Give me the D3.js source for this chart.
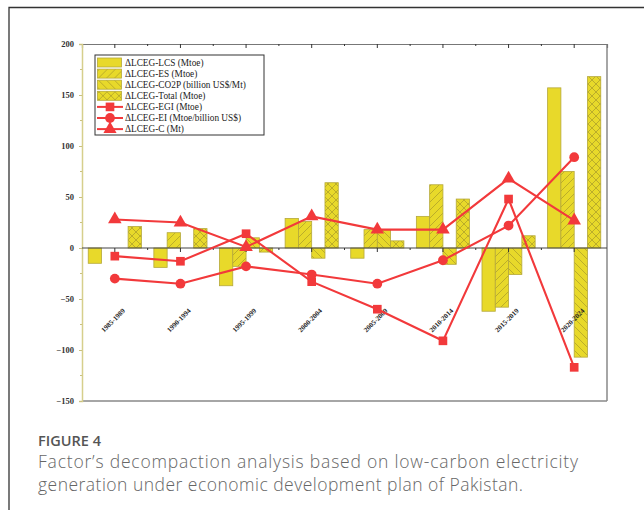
<!DOCTYPE html>
<html>
  <head>
    <meta charset="utf-8">
    <title>Factor decomposition - Pakistan</title>
    <style>
      body{ margin:0; background:#fff; }
      svg{ display:block; }
    </style>
  </head>
  <body>
    <svg id="chart" width="644" height="510"></svg>
  </body>
  <script src="https://cdn.jsdelivr.net/npm/d3@7/dist/d3.min.js"></script>
  <script>
    var periods = ["1985-1989","1990-1994","1995-1999","2000-2004","2005-2009","2010-2014","2015-2019","2020-2024"]
    var barNames = ["ΔLCEG-LCS (Mtoe)","ΔLCEG-ES (Mtoe)","ΔLCEG-CO2P (billion US$/Mt)","ΔLCEG-Total (Mtoe)"]
    var lcs   = [-15, -19, -37, 29, -10, 31, -62, 157]
    var es    = [0, 15, -18, 26, 18, 62, -58, 75]
    var co2p  = [0, 0, 10, -10, 18, -16, -26, -107]
    var total = [21, 19, -4, 64, 7, 48, 12, 168]
    var lineNames = ["ΔLCEG-EGI (Mtoe)","ΔLCEG-EI (Mtoe/billion US$)","ΔLCEG-C (Mt)"]
    var egi = [-8, -13, 14, -33, -60, -91, 48, -117]
    var ei  = [-30, -35, -18, -26, -35, -12, 22, 89]
    var c   = [28, 25, 1, 31, 18, 18, 68, 27]
    var yTicks = [-150, -100, -50, 0, 50, 100, 150, 200]

    var bars = [lcs, es, co2p, total]
    var lines = [egi, ei, c]
    var fills = ["none", "url(#hatchF)", "url(#hatchB)", "url(#hatchX)"]
    var symbols = [d3.symbolSquare, d3.symbolCircle, d3.symbolTriangle]
    var red = "#f2393b"
    var serif = "'Liberation Serif', 'DejaVu Serif', serif"

    var svg = d3.select("#chart")
    var m = {left:82, right:607, top:44, bottom:401}

    // frame round the figure
    svg.append("path").attr("d","M9,510 V7.5 H644").attr("fill","none").attr("stroke","#333").attr("stroke-width",1.3)

    var defs = svg.append("defs")
    function hatch(id, paths){
      var p = defs.append("pattern").attr("id",id).attr("patternUnits","userSpaceOnUse")
        .attr("width",8).attr("height",8)
      p.append("rect").attr("width",8).attr("height",8).attr("fill","#e8d92a")
      paths.forEach(function(d){
        p.append("path").attr("d",d).attr("stroke","#a89a2a").attr("stroke-width",0.7).attr("fill","none")
      })
    }
    hatch("hatchF", ["M-2,2 L2,-2 M0,8 L8,0 M6,10 L10,6"])
    hatch("hatchB", ["M-2,6 L2,10 M0,0 L8,8 M6,-2 L10,2"])
    hatch("hatchX", ["M-2,2 L2,-2 M0,8 L8,0 M6,10 L10,6","M-2,6 L2,10 M0,0 L8,8 M6,-2 L10,2"])

    var x = d3.scaleBand().domain(periods).range([m.left, m.right])
    var xs = d3.scaleBand().domain(d3.range(4)).range([0, x.bandwidth()*0.81])
    var y = d3.scaleLinear().domain([-150, 200]).range([m.bottom, m.top])

    // bars
    bars.forEach(function(vals, k){
      svg.append("g").selectAll("rect").data(vals).enter().append("rect")
        .attr("x", function(d,i){ return x(periods[i]) + x.bandwidth()*0.095 + xs(k) })
        .attr("width", xs.bandwidth())
        .attr("y", function(d){ return y(Math.max(0,d)) })
        .attr("height", function(d){ return Math.abs(y(d)-y(0)) })
        .attr("fill", k==0 ? "#e8d92a" : fills[k])
        .attr("stroke", "#b5a83a").attr("stroke-width", 0.8)
    })

    // axes frame
    svg.append("line").attr("x1",m.left).attr("x2",m.right).attr("y1",m.bottom).attr("y2",m.bottom)
      .attr("stroke","#888").attr("stroke-width",1.5)
    svg.append("line").attr("x1",m.right).attr("x2",m.right).attr("y1",m.top).attr("y2",m.bottom)
      .attr("stroke","#888").attr("stroke-width",1.5)

    var topAxis = svg.append("g").attr("transform","translate(0,"+m.top+")")
      .call(d3.axisBottom(x).tickSize(4).tickFormat(""))
    topAxis.select(".domain").attr("stroke","#777").attr("stroke-width",1.2)
    topAxis.selectAll(".tick line").attr("stroke","#333")
    topAxis.selectAll(".minor").data(periods.slice(1)).enter().append("line")
      .attr("x1",function(d){return x(d)}).attr("x2",function(d){return x(d)}).attr("y1",0).attr("y2",2).attr("stroke","#333")

    var yAxis = svg.append("g").attr("transform","translate("+m.left+",0)")
      .call(d3.axisLeft(y).tickValues(yTicks).tickSize(3).tickPadding(5).tickFormat(function(d){ return d<0 ? "\u2212"+(-d) : d }))
    yAxis.select(".domain").attr("stroke","#d6cf8c").attr("stroke-width",1.5)
    yAxis.selectAll(".tick line").attr("stroke","#c9c080")
    yAxis.selectAll("text").attr("font-family",serif).attr("font-size",8.5).attr("font-weight","bold").attr("fill","#333")
    yAxis.selectAll(".ym").data(d3.range(-125, 200, 50)).enter().append("line")
      .attr("x1",0).attr("x2",-2).attr("y1",function(d){return y(d)}).attr("y2",function(d){return y(d)}).attr("stroke","#c9c080")

    // zero axis with category labels
    var zero = svg.append("g").attr("transform","translate(0,"+y(0)+")")
      .call(d3.axisBottom(x).tickSize(4).tickFormat(""))
    zero.select(".domain").attr("stroke","#444").attr("stroke-width",1.2).attr("d","M"+m.left+",0H"+m.right)
    zero.selectAll(".tick line").attr("stroke","#333")
    zero.selectAll(".minor").data(periods.slice(1)).enter().append("line")
      .attr("x1",function(d){return x(d)}).attr("x2",function(d){return x(d)}).attr("y1",0).attr("y2",2).attr("stroke","#333")

    svg.append("g").selectAll("text").data(periods).enter().append("text")
      .attr("transform", function(d){ return "translate("+(x(d)+x.bandwidth()/2)+",322) rotate(-45)" })
      .attr("text-anchor","middle").attr("font-family",serif).attr("font-size",7).attr("font-weight","bold")
      .attr("fill","#222").text(function(d){return d})

    // lines
    var line = d3.line().x(function(d,i){ return x(periods[i]) + x.bandwidth()/2 }).y(function(d){ return y(d) })
    lines.forEach(function(vals, k){
      svg.append("path").datum(vals).attr("d", line).attr("fill","none").attr("stroke",red).attr("stroke-width",2.1)
      svg.append("g").selectAll("path").data(vals).enter().append("path")
        .attr("transform", function(d,i){ return "translate("+(x(periods[i]) + x.bandwidth()/2)+","+y(d)+")" })
        .attr("d", d3.symbol().type(symbols[k]).size(k==2 ? 80 : 75))
        .attr("fill", red)
    })

    // legend
    var lg = svg.append("g").attr("transform","translate(95,55)")
    lg.append("rect").attr("width",169).attr("height",80).attr("fill","#fff").attr("stroke","#333").attr("stroke-width",1)
    var names = barNames.concat(lineNames)
    names.forEach(function(n, i){
      var yy = 7.5 + i*11.1
      var row = lg.append("g").attr("transform","translate(0,"+yy+")")
      if(i < 4){
        row.append("rect").attr("x",2.5).attr("y",-4.5).attr("width",24).attr("height",9)
          .attr("fill", i==0 ? "#e8d92a" : fills[i]).attr("stroke","#b5a83a").attr("stroke-width",0.8)
      } else {
        row.append("line").attr("x1",2).attr("x2",28).attr("stroke",red).attr("stroke-width",2)
        row.append("path").attr("transform","translate(15,0)").attr("d", d3.symbol().type(symbols[i-4]).size(75)).attr("fill",red)
      }
      row.append("text").attr("x",30).attr("y",3.2).attr("font-family",serif).attr("font-size",9.3)
        .attr("fill","#222").text(n)
    })

    // caption
    svg.append("text").attr("x",38).attr("y",446).attr("font-family","'Open Sans', sans-serif").attr("font-size",14.5)
      .attr("font-weight",600).attr("fill","#555").attr("textLength",63).attr("lengthAdjust","spacing").text("FIGURE 4")
    var cap = ["Factor\u2019s decompaction analysis based on low-carbon electricity",
               "generation under economic development plan of Pakistan."]
    var capW = [540, 485]
    svg.append("g").selectAll("text").data(cap).enter().append("text")
      .attr("x",38).attr("y",function(d,i){ return 468 + i*22.5 })
      .attr("font-family","'Open Sans', sans-serif").attr("font-size",17.5).attr("font-weight",300)
      .attr("textLength",function(d,i){ return capW[i] }).attr("lengthAdjust","spacing")
      .attr("fill","#666").text(function(d){return d})
  </script>
</html>
